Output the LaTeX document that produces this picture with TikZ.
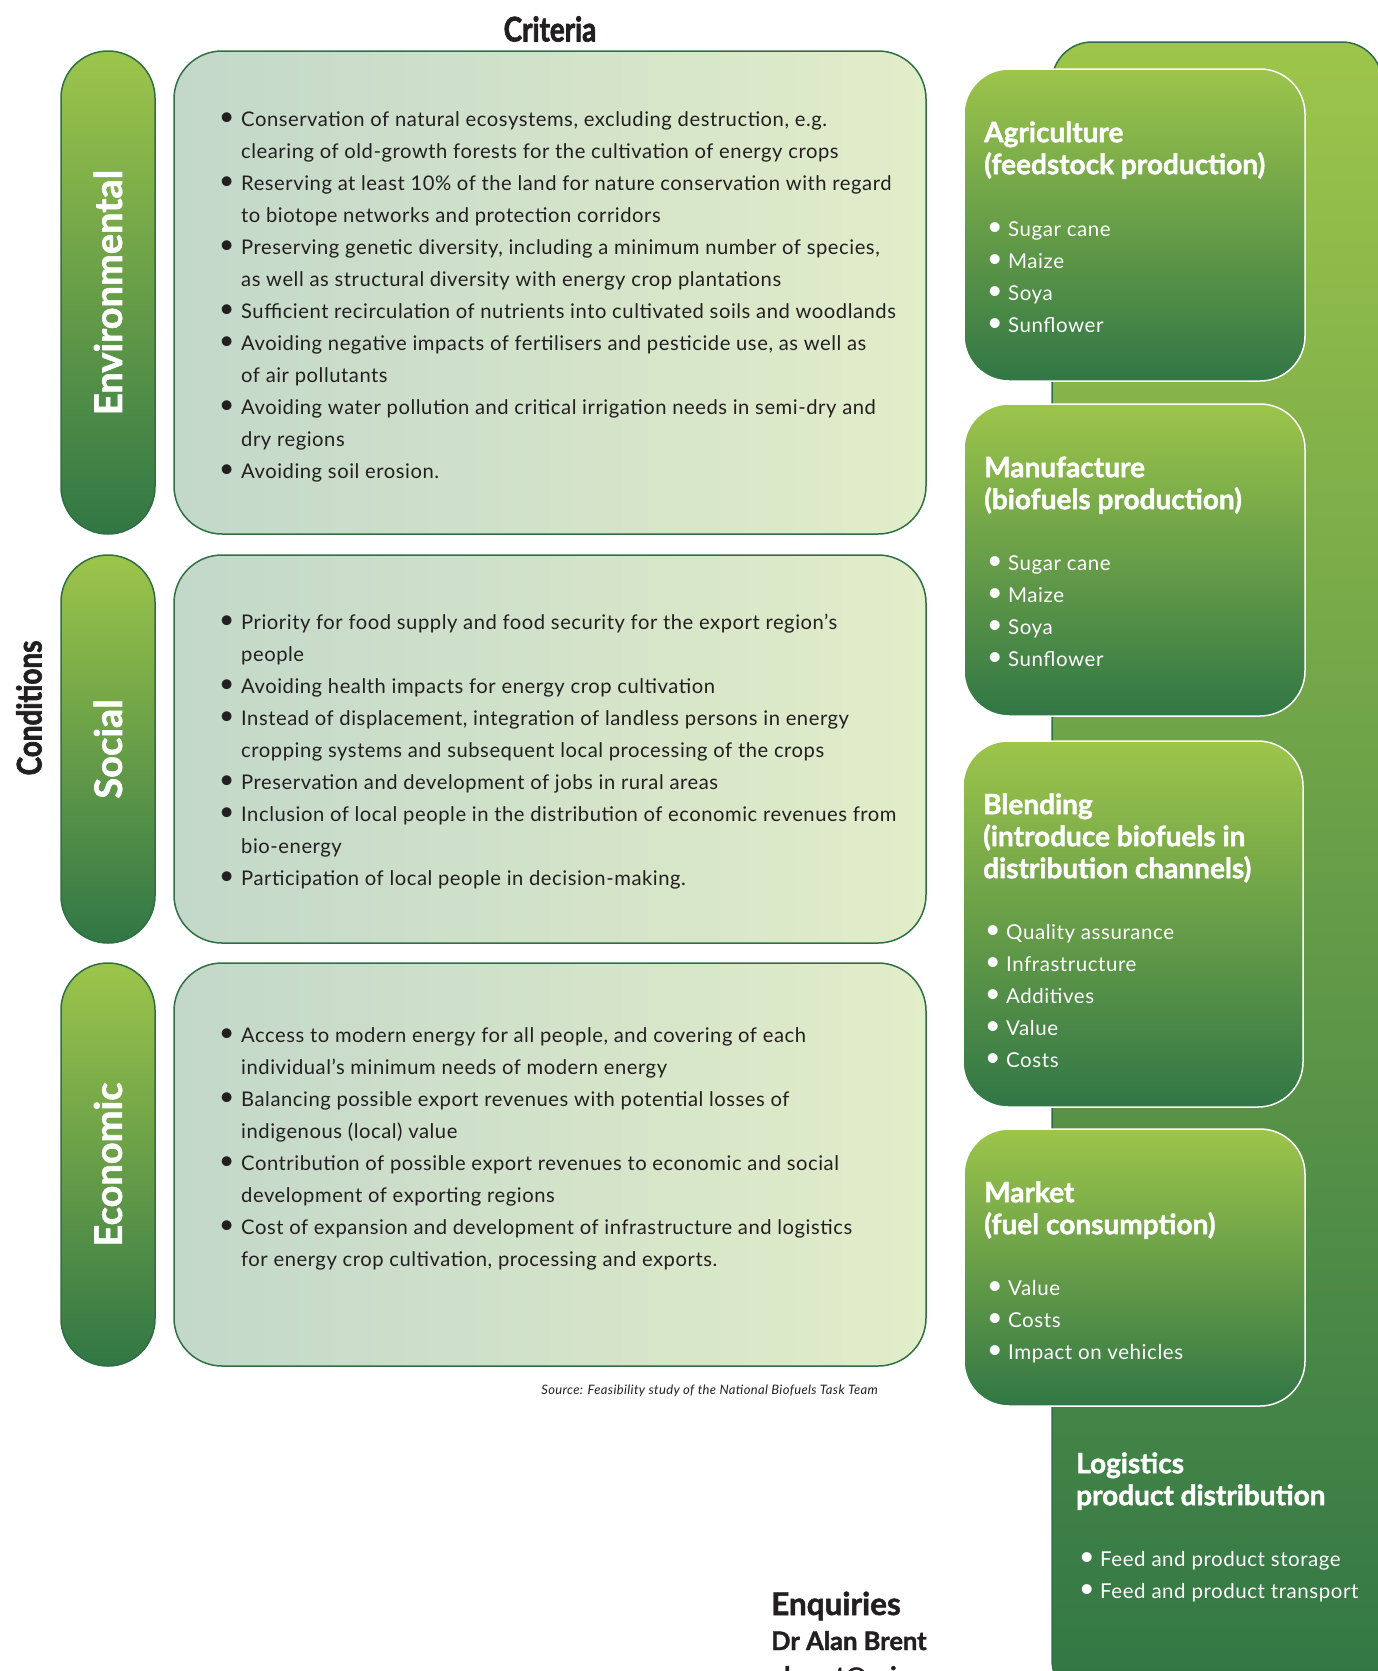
\documentclass[tikz,border=0pt]{standalone}
\usepackage{fontspec}
\setmainfont{Lato}
\newfontfamily\bodyfont[LetterSpace=2.7]{Lato}
\newfontfamily\titlefont[BoldFeatures={FakeBold=1.5}]{Lato}
\newfontfamily\headfont[FakeStretch=0.82,BoldFeatures={FakeBold=2}]{Lato}

\definecolor{lightleaf}{HTML}{9DC54B}
\definecolor{darkleaf}{HTML}{317645}
\definecolor{edgegreen}{HTML}{2E7043}
\definecolor{paleblue}{HTML}{C3D8CA}
\definecolor{palelime}{HTML}{E2EDC9}
\definecolor{inkgrey}{HTML}{231F20}

\newcommand\bigdot{\raisebox{1pt}{\scalebox{1.3}{\textbullet}}}
\newcommand\itm{\makebox[22pt][l]{\bigdot}}
\newcommand\cont{\hspace*{22pt}}
\newcommand\sitm{\makebox[21pt][l]{\bigdot}}
\newcommand\firstline{\rule{0pt}{30pt}}

\begin{document}
\begin{tikzpicture}[
        x=1pt,
        y=-1pt,
        pill/.style={
            rectangle,
            draw=edgegreen,
            line width=1.5pt,
            top color=lightleaf,
            bottom color=darkleaf,
            rounded corners=47pt,
            minimum width=94pt,
            inner sep=0pt
        },
        criteriabox/.style={
            rectangle,
            draw=edgegreen,
            line width=1.5pt,
            left color=paleblue,
            right color=palelime,
            rounded corners=48pt,
            minimum width=752pt,
            inner sep=0pt
        },
        stage/.style={
            rectangle,
            draw=white,
            line width=1.5pt,
            top color=lightleaf,
            bottom color=darkleaf,
            rounded corners=45pt,
            minimum width=341pt,
            inner sep=0pt
        },
        pilltext/.style={
            rotate=90,
            text=white,
            font=\fontsize{38}{42}\selectfont\titlefont\bfseries
        },
        heading/.style={
            text=inkgrey,
            font=\fontsize{34}{38}\selectfont\headfont\bfseries
        },
        body/.style={
            anchor=north west,
            inner sep=0pt,
            align=left,
            text=inkgrey,
            font=\fontsize{20.2}{32}\selectfont\bodyfont
        },
        stagetitle/.style={
            anchor=north west,
            inner sep=0pt,
            align=left,
            text=white,
            font=\fontsize{28}{32}\selectfont\titlefont\bfseries
        },
        stageitems/.style={
            anchor=north west,
            inner sep=0pt,
            align=left,
            text=white,
            font=\fontsize{20.5}{32}\selectfont\bodyfont
        },
        contact/.style={
            anchor=base west,
            inner sep=0pt,
            text=inkgrey
        },
      ]
        \useasboundingbox (0,0) rectangle (1378,1671);
        \clip (0,0) rectangle (1378,1671);

        % supply chain column
        \node [stage,draw=edgegreen,rounded corners=40pt,minimum width=330pt,minimum height=1658pt] (logistics) at (1217,871) {};
        \node [stage,minimum height=312pt] (agriculture) at (1134.5,225) {};
        \node [stage,minimum height=312pt] (manufacture) at (1134.5,560) {};
        \node [stage,minimum width=340pt,minimum height=366pt] (blending) at (1133,924) {};
        \node [stage,minimum height=277pt] (market) at (1134.5,1267.5) {};

        \node [stagetitle] (agriculture-title) at (984,112) {\firstline Agriculture\\(feedstock production)};
        \node [stageitems] (agriculture-items) at (987,206) {\firstline\sitm Sugar cane\\\sitm Maize\\\sitm Soya\\\sitm Sunflower};
        \node [stagetitle] (manufacture-title) at (984,447) {\firstline Manufacture\\(biofuels production)};
        \node [stageitems] (manufacture-items) at (987,540) {\firstline\sitm Sugar cane\\\sitm Maize\\\sitm Soya\\\sitm Sunflower};
        \node [stagetitle] (blending-title) at (983,784) {\firstline Blending\\(introduce biofuels in\\distribution channels)};
        \node [stageitems] (blending-items) at (985,909) {\firstline\sitm Quality assurance\\\sitm Infrastructure\\\sitm Additives\\\sitm Value\\\sitm Costs};
        \node [stagetitle] (market-title) at (984,1172) {\firstline Market\\(fuel consumption)};
        \node [stageitems] (market-items) at (987,1265) {\firstline\sitm Value\\\sitm Costs\\\sitm Impact on vehicles};
        \node [stagetitle] (logistics-title) at (1076,1443) {\firstline Logistics\\product distribution};
        \node [stageitems] (logistics-items) at (1079,1536) {\firstline\sitm Feed and product storage\\\sitm Feed and product transport};

        % conditions and criteria
        \node [heading] (criteria) at (550,29) {Criteria};
        \node [heading,rotate=90] (conditions) at (29,708) {Conditions};

        \node [pill,minimum height=483pt] (environmental) at (108,292.5) {};
        \node [pill,minimum height=388pt] (social) at (108,749) {};
        \node [pill,minimum height=403pt] (economic) at (108,1164.5) {};
        \node [pilltext] (environmental-label) at (environmental.center) {Environmental};
        \node [pilltext] (social-label) at (social.center) {Social};
        \node [pilltext] (economic-label) at (economic.center) {Economic};

        \node [criteriabox,minimum height=483pt] (environmental-box) at (550,292.5) {};
        \node [criteriabox,minimum height=388pt] (social-box) at (550,749) {};
        \node [criteriabox,minimum height=403pt] (economic-box) at (550,1164.5) {};

        \node [body] (environmental-text) at (219,96) {\firstline\itm Conservation of natural ecosystems, excluding destruction, e.g.\\
            \cont clearing of old-growth forests for the cultivation of energy crops\\
            \itm Reserving at least 10\% of the land for nature conservation with regard\\
            \cont to biotope networks and protection corridors\\
            \itm Preserving genetic diversity, including a minimum number of species,\\
            \cont as well as structural diversity with energy crop plantations\\
            \itm Sufficient recirculation of nutrients into cultivated soils and woodlands\\
            \itm Avoiding negative impacts of fertilisers and pesticide use, as well as\\
            \cont of air pollutants\\
            \itm Avoiding water pollution and critical irrigation needs in semi-dry and\\
            \cont dry regions\\
            \itm Avoiding soil erosion.};
        \node [body] (social-text) at (219,599.5) {\firstline\itm Priority for food supply and food security for the export region’s\\
            \cont people\\
            \itm Avoiding health impacts for energy crop cultivation\\
            \itm Instead of displacement, integration of landless persons in energy\\
            \cont cropping systems and subsequent local processing of the crops\\
            \itm Preservation and development of jobs in rural areas\\
            \itm Inclusion of local people in the distribution of economic revenues from\\
            \cont bio-energy\\
            \itm Participation of local people in decision-making.};
        \node [body] (economic-text) at (219,1012) {\firstline\itm Access to modern energy for all people, and covering of each\\
            \cont individual’s minimum needs of modern energy\\
            \itm Balancing possible export revenues with potential losses of\\
            \cont indigenous (local) value\\
            \itm Contribution of possible export revenues to economic and social\\
            \cont development of exporting regions\\
            \itm Cost of expansion and development of infrastructure and logistics\\
            \cont for energy crop cultivation, processing and exports.};

        \node [anchor=east,inner sep=0pt,text=inkgrey,font=\fontsize{13}{16}\selectfont\bodyfont\itshape] (source) at (878,1391) {Source: Feasibility study of the National Biofuels Task Team};

        % contact
        \node [contact,font=\fontsize{31.5}{34}\selectfont\titlefont\bfseries] (enquiries) at (771,1615) {Enquiries};
        \node [contact,font=\fontsize{25.5}{28}\selectfont\titlefont\bfseries] (contact-name) at (771,1650) {Dr Alan Brent};
        \node [contact,font=\fontsize{25.5}{28}\selectfont\titlefont\bfseries] (contact-email) at (771,1685) {abrent@csir.co.za};
      \end{tikzpicture}
\end{document}
